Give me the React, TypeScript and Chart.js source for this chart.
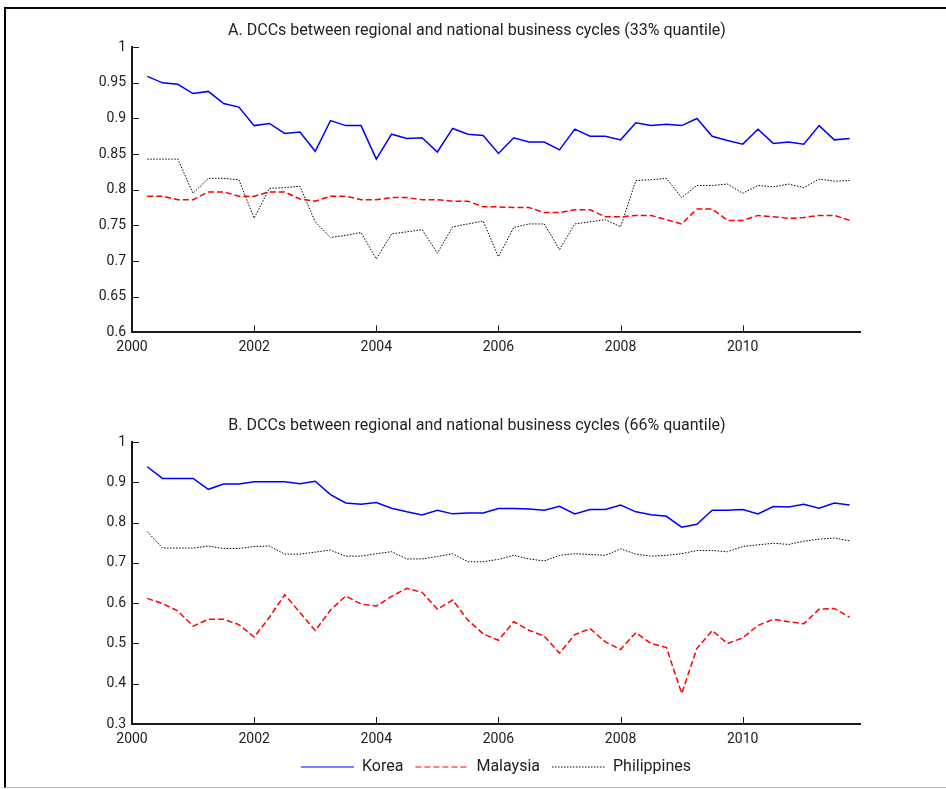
import React, { useEffect, useRef } from 'react';
import { Chart, registerables } from 'chart.js';

Chart.register(...registerables);

// Quarterly observation dates (decimal years)
const quarters = [
  2000.25, 2000.5, 2000.75, 2001.0, 2001.25, 2001.5, 2001.75, 2002.0,
  2002.25, 2002.5, 2002.75, 2003.0, 2003.25, 2003.5, 2003.75, 2004.0,
  2004.25, 2004.5, 2004.75, 2005.0, 2005.25, 2005.5, 2005.75, 2006.0,
  2006.25, 2006.5, 2006.75, 2007.0, 2007.25, 2007.5, 2007.75, 2008.0,
  2008.25, 2008.5, 2008.75, 2009.0, 2009.25, 2009.5, 2009.75, 2010.0,
  2010.25, 2010.5, 2010.75, 2011.0, 2011.25, 2011.5, 2011.75,
];

const xTicks = [2000, 2002, 2004, 2006, 2008, 2010];
const yTicksA = [0.6, 0.65, 0.7, 0.75, 0.8, 0.85, 0.9, 0.95, 1];
const yTicksB = [0.3, 0.4, 0.5, 0.6, 0.7, 0.8, 0.9, 1];

const seriesNames = ['Korea', 'Malaysia', 'Philippines'];

const titleA = 'A. DCCs between regional and national business cycles (33% quantile)';
const titleB = 'B. DCCs between regional and national business cycles (66% quantile)';

// Panel A (33% quantile)
const koreaA = [
  0.959, 0.950, 0.948, 0.935, 0.938, 0.921, 0.916, 0.890, 0.893, 0.879,
  0.881, 0.854, 0.897, 0.890, 0.890, 0.843, 0.878, 0.872, 0.873, 0.853,
  0.886, 0.878, 0.876, 0.851, 0.873, 0.867, 0.867, 0.856, 0.885, 0.875,
  0.875, 0.870, 0.894, 0.890, 0.892, 0.890, 0.900, 0.875, 0.869, 0.864,
  0.885, 0.865, 0.867, 0.864, 0.890, 0.870, 0.872,
];
const malaysiaA = [
  0.791, 0.791, 0.786, 0.786, 0.797, 0.797, 0.791, 0.791, 0.797, 0.797,
  0.787, 0.784, 0.791, 0.791, 0.786, 0.786, 0.789, 0.789, 0.786, 0.786,
  0.784, 0.784, 0.776, 0.776, 0.775, 0.775, 0.768, 0.768, 0.772, 0.772,
  0.762, 0.762, 0.764, 0.764, 0.758, 0.752, 0.773, 0.773, 0.757, 0.757,
  0.764, 0.762, 0.760, 0.761, 0.764, 0.764, 0.757,
];
const philippinesA = [
  0.843, 0.843, 0.843, 0.795, 0.816, 0.816, 0.814, 0.760, 0.802, 0.803,
  0.805, 0.755, 0.733, 0.736, 0.740, 0.703, 0.738, 0.741, 0.744, 0.711,
  0.748, 0.752, 0.756, 0.706, 0.747, 0.752, 0.752, 0.716, 0.752, 0.755,
  0.758, 0.748, 0.813, 0.814, 0.816, 0.789, 0.806, 0.806, 0.808, 0.795,
  0.806, 0.804, 0.808, 0.803, 0.815, 0.812, 0.813,
];

// Panel B (66% quantile)
const koreaB = [
  0.939, 0.910, 0.910, 0.910, 0.883, 0.896, 0.896, 0.902, 0.902, 0.902,
  0.897, 0.903, 0.870, 0.849, 0.846, 0.850, 0.836, 0.827, 0.819, 0.831,
  0.822, 0.824, 0.824, 0.835, 0.835, 0.834, 0.831, 0.841, 0.822, 0.833,
  0.833, 0.844, 0.827, 0.820, 0.816, 0.789, 0.796, 0.831, 0.831, 0.833,
  0.822, 0.840, 0.839, 0.846, 0.836, 0.849, 0.844,
];
const malaysiaB = [
  0.612, 0.599, 0.581, 0.543, 0.560, 0.560, 0.547, 0.516, 0.565, 0.621,
  0.577, 0.532, 0.583, 0.618, 0.598, 0.593, 0.617, 0.637, 0.627, 0.585,
  0.608, 0.558, 0.524, 0.508, 0.554, 0.533, 0.518, 0.476, 0.522, 0.537,
  0.504, 0.485, 0.527, 0.500, 0.490, 0.376, 0.488, 0.532, 0.500, 0.514,
  0.545, 0.560, 0.554, 0.549, 0.585, 0.587, 0.565,
];
const philippinesB = [
  0.778, 0.737, 0.737, 0.737, 0.742, 0.736, 0.736, 0.741, 0.742, 0.722,
  0.722, 0.727, 0.732, 0.717, 0.717, 0.723, 0.728, 0.710, 0.710, 0.716,
  0.723, 0.703, 0.703, 0.709, 0.719, 0.710, 0.705, 0.719, 0.723, 0.721,
  0.719, 0.735, 0.722, 0.717, 0.719, 0.723, 0.731, 0.731, 0.728, 0.741,
  0.745, 0.749, 0.746, 0.754, 0.759, 0.762, 0.755,
];

const FONT = 'Roboto, "Noto Sans", sans-serif';
const TEXT = '#222222';
const AXIS = '#1a1a1a';

const inwardTicks = {
  id: 'inwardTicks',
  afterDraw(chart: any) {
    const { ctx } = chart;
    const xs = chart.scales.x;
    const ys = chart.scales.y;
    ctx.save();
    ctx.strokeStyle = AXIS;
    ctx.lineWidth = 1;
    ctx.setLineDash([]);
    ctx.beginPath();
    xs.ticks.forEach((t: any) => {
      const px = Math.round(xs.getPixelForValue(t.value)) + 0.5;
      ctx.moveTo(px, ys.bottom);
      ctx.lineTo(px, ys.bottom - 7);
    });
    ys.ticks.forEach((t: any) => {
      const py = Math.round(ys.getPixelForValue(t.value)) + 0.5;
      ctx.moveTo(xs.left, py);
      ctx.lineTo(xs.left + 7, py);
    });
    ctx.stroke();
    ctx.restore();
  },
};

function pairs(values: number[]) {
  return quarters.map((q, i) => ({ x: q, y: values[i] }));
}

function makeConfig(
  title: string,
  korea: number[],
  malaysia: number[],
  philippines: number[],
  yTicks: number[],
  withLegend: boolean,
  xHeight: number
): any {
  return {
    type: 'line',
    data: {
      datasets: [
        {
          label: seriesNames[0],
          data: pairs(korea),
          borderColor: '#0000ff',
          backgroundColor: '#0000ff',
          borderWidth: 1.5,
          yAxisID: 'y',
        },
        {
          label: seriesNames[1],
          data: pairs(malaysia),
          borderColor: '#ff0000',
          backgroundColor: '#ff0000',
          borderWidth: 1.5,
          borderDash: [6, 3],
          yAxisID: 'y',
        },
        {
          label: seriesNames[2],
          data: pairs(philippines),
          borderColor: '#000000',
          backgroundColor: '#000000',
          borderWidth: 1,
          borderDash: [1.5, 1.5],
          yAxisID: 'y',
        },
      ],
    },
    plugins: [inwardTicks],
    options: {
      responsive: false,
      animation: false,
      devicePixelRatio: 1,
      layout: { padding: { left: 0, right: 0, top: 0, bottom: withLegend ? 4 : 0 } },
      elements: { point: { radius: 0 }, line: { tension: 0 } },
      plugins: {
        title: {
          display: true,
          text: title,
          color: TEXT,
          font: { family: FONT, size: 16, weight: 'normal' },
          padding: { top: 21, bottom: 7 },
        },
        legend: withLegend
          ? {
              display: true,
              position: 'bottom',
              fullSize: false,
              labels: {
                usePointStyle: true,
                pointStyle: 'line',
                pointStyleWidth: 53,
                padding: 12,
                color: TEXT,
                font: { family: FONT, size: 16 },
                generateLabels: (chart: any) =>
                  chart.data.datasets.map((ds: any, i: number) => ({
                    text: ds.label,
                    fillStyle: ds.borderColor,
                    strokeStyle: ds.borderColor,
                    lineWidth: 1.2,
                    lineDash: ds.borderDash || [],
                    lineCap: 'butt',
                    pointStyle: 'line',
                    hidden: false,
                    datasetIndex: i,
                    fontColor: TEXT,
                  })),
              },
            }
          : { display: false },
        tooltip: { enabled: false },
      },
      scales: {
        x: {
          type: 'linear',
          min: 2000,
          max: 2011.92,
          afterBuildTicks: (s: any) => {
            s.ticks = xTicks.map((v) => ({ value: v }));
          },
          afterFit: (s: any) => {
            s.height = xHeight;
          },
          ticks: {
            color: TEXT,
            font: { family: FONT, size: 14 },
            padding: 7,
            maxRotation: 0,
            autoSkip: false,
            callback: (v: any) => String(v),
          },
          grid: { display: false, drawTicks: false },
          border: { display: true, color: AXIS, width: 2 },
        },
        y: {
          type: 'linear',
          position: 'left',
          min: yTicks[0],
          max: yTicks[yTicks.length - 1],
          afterBuildTicks: (s: any) => {
            s.ticks = yTicks.map((v) => ({ value: v }));
          },
          afterFit: (s: any) => {
            s.width = 128;
          },
          ticks: {
            color: TEXT,
            font: { family: FONT, size: 14 },
            padding: 6,
            autoSkip: false,
            callback: (v: any) => String(v),
          },
          grid: { display: false, drawTicks: false },
          border: { display: true, color: AXIS, width: 2 },
        },
        y2: {
          type: 'linear',
          position: 'right',
          display: true,
          ticks: { display: false },
          grid: { display: false, drawTicks: false },
          border: { display: false },
          afterFit: (s: any) => {
            s.width = 90;
          },
        },
      },
    },
  };
}

export default function App() {
  const refA = useRef<HTMLCanvasElement>(null);
  const refB = useRef<HTMLCanvasElement>(null);

  useEffect(() => {
    const a = new Chart(
      refA.current as HTMLCanvasElement,
      makeConfig(titleA, koreaA, malaysiaA, philippinesA, yTicksA, false, 57.7)
    );
    const b = new Chart(
      refB.current as HTMLCanvasElement,
      makeConfig(titleB, koreaB, malaysiaB, philippinesB, yTicksB, true, 23)
    );
    return () => {
      a.destroy();
      b.destroy();
    };
  }, []);

  return (
    <div
      style={{
        position: 'fixed',
        left: 0,
        top: 0,
        width: 946,
        height: 789,
        overflow: 'hidden',
        background: '#ffffff',
      }}
    >
      <div
        style={{
          position: 'absolute',
          left: 4,
          top: 7,
          width: 960,
          height: 778,
          borderTop: '2px solid #000',
          borderLeft: '2px solid #000',
          borderBottom: '1px solid #b4b4b4',
        }}
      />
      <canvas
        ref={refA}
        width={946}
        height={390}
        style={{ position: 'absolute', left: 4, top: 0, width: 946, height: 390 }}
      />
      <canvas
        ref={refB}
        width={946}
        height={394}
        style={{ position: 'absolute', left: 4, top: 395, width: 946, height: 394 }}
      />
    </div>
  );
}
